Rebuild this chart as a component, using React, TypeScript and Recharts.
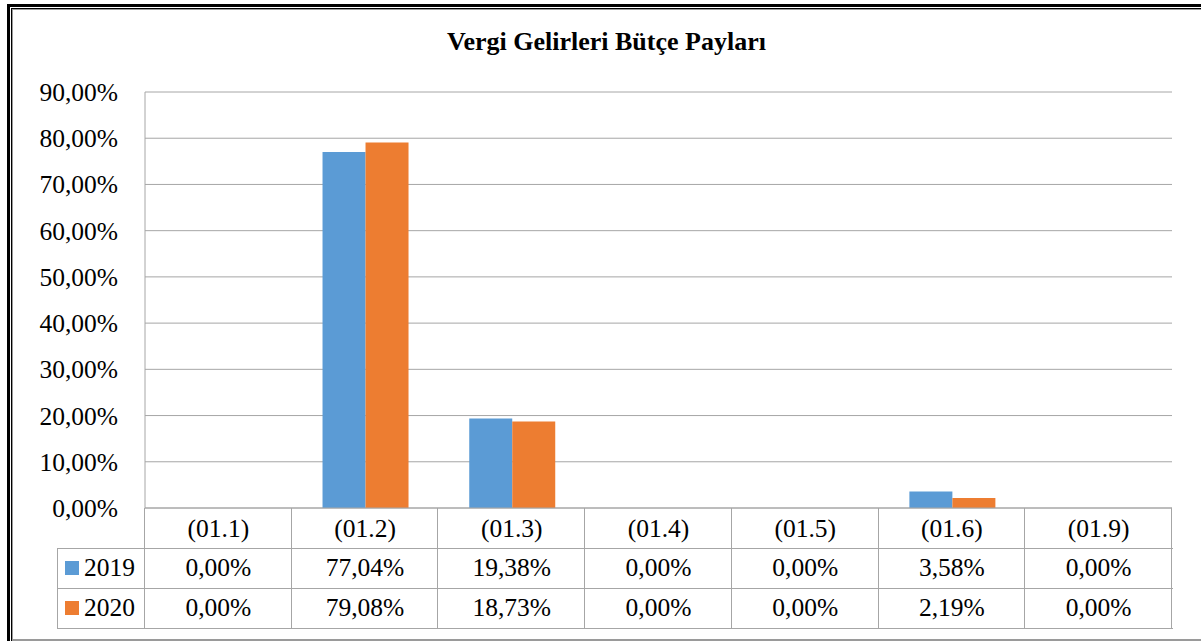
import { BarChart, Bar, XAxis, YAxis, CartesianGrid } from "recharts";

const title = "Vergi Gelirleri Bütçe Payları";
const categories = ["(01.1)", "(01.2)", "(01.3)", "(01.4)", "(01.5)", "(01.6)", "(01.9)"];
const values2019 = [0, 77.04, 19.38, 0, 0, 3.58, 0];
const values2020 = [0, 79.08, 18.73, 0, 0, 2.19, 0];
const seriesNames = ["2019", "2020"];
const yTicks = [0, 10, 20, 30, 40, 50, 60, 70, 80, 90];

const W = 1201;
const H = 641;
const PLOT_LEFT = 145;
const PLOT_RIGHT = 1172;
const PLOT_TOP = 92;
const PLOT_BOTTOM = 508;
const HEADER_H = 40;
const ROW_H = 40;
const LEGEND_LEFT = 57;

const FONT = '"Liberation Serif", "Times New Roman", serif';
const GRID = "#a6a6a6";
const BLUE = "#5b9bd5";
const ORANGE = "#ed7d31";

const fmt = (v: number) => v.toFixed(2).replace(".", ",") + "%";

const data = categories.map((c, i) => ({
  cat: c,
  y2019: values2019[i],
  y2020: values2020[i],
}));

const series = [
  { name: seriesNames[0], values: values2019, color: BLUE },
  { name: seriesNames[1], values: values2020, color: ORANGE },
];

function CategoryTick(props: any) {
  const { x, y, payload } = props;
  return (
    <text
      x={x}
      y={y + 29}
      textAnchor="middle"
      fontFamily={FONT}
      fontSize={25.5}
      fill="#000"
    >
      {payload.value}
    </text>
  );
}

function DataTable() {
  const band = (PLOT_RIGHT - PLOT_LEFT) / categories.length;
  const rowTop = PLOT_BOTTOM + HEADER_H;
  const tableBottom = rowTop + series.length * ROW_H;
  const lines: JSX.Element[] = [];

  // horizontal lines of the value rows
  for (let r = 0; r <= series.length; r++) {
    lines.push(
      <div
        key={"h" + r}
        style={{
          position: "absolute",
          left: LEGEND_LEFT,
          top: rowTop + r * ROW_H,
          width: PLOT_RIGHT - LEGEND_LEFT + 1,
          height: 1,
          background: GRID,
        }}
      />
    );
  }
  // legend column left border
  lines.push(
    <div
      key="vl"
      style={{
        position: "absolute",
        left: LEGEND_LEFT,
        top: rowTop,
        width: 1,
        height: tableBottom - rowTop,
        background: GRID,
      }}
    />
  );
  // category column borders
  for (let i = 0; i <= categories.length; i++) {
    lines.push(
      <div
        key={"v" + i}
        style={{
          position: "absolute",
          left: Math.round(PLOT_LEFT - 1 + i * band),
          top: PLOT_BOTTOM,
          width: 1,
          height: tableBottom - PLOT_BOTTOM,
          background: GRID,
        }}
      />
    );
  }

  const cells: JSX.Element[] = [];
  series.forEach((s, r) => {
    const top = rowTop + r * ROW_H;
    cells.push(
      <div
        key={"lg" + r}
        style={{
          position: "absolute",
          left: LEGEND_LEFT + 8,
          top,
          height: ROW_H,
          display: "flex",
          alignItems: "center",
          fontFamily: FONT,
          fontSize: 25.5,
          lineHeight: "26px",
          color: "#000",
        }}
      >
        <span
          style={{
            display: "inline-block",
            width: 14,
            height: 14,
            background: s.color,
            marginRight: 5,
          }}
        />
        {s.name}
      </div>
    );
    s.values.forEach((v, i) => {
      cells.push(
        <div
          key={"c" + r + "-" + i}
          style={{
            position: "absolute",
            left: PLOT_LEFT + i * band,
            width: band,
            top,
            height: ROW_H,
            display: "flex",
            alignItems: "center",
            justifyContent: "center",
            fontFamily: FONT,
            fontSize: 25.5,
            lineHeight: "26px",
            color: "#000",
          }}
        >
          {fmt(v)}
        </div>
      );
    });
  });

  return (
    <>
      {lines}
      {cells}
    </>
  );
}

function Frame() {
  const box = (s: React.CSSProperties, k: string) => (
    <div key={k} style={{ position: "absolute", ...s }} />
  );
  return (
    <>
      {box({ left: 7, top: 4, right: 0, height: 3, background: "#000" }, "t1")}
      {box({ left: 7, top: 4, width: 3, bottom: 0, background: "#000" }, "l1")}
      {box({ left: 11, top: 8, right: 0, height: 1, background: "#000" }, "t2")}
      {box({ left: 11, top: 8, width: 1, bottom: 0, background: "#000" }, "l2")}
      {box({ left: 12, top: 9, right: 0, height: 1, background: "#9a9a9a" }, "t3")}
      {box({ left: 12, top: 9, width: 1, bottom: 0, background: "#9a9a9a" }, "l3")}
      {box({ left: 12, top: 639, right: 0, height: 2, background: "#9a9a9a" }, "b3")}
    </>
  );
}

export default function App() {
  return (
    <div
      style={{
        position: "absolute",
        left: 0,
        top: 0,
        width: W,
        height: H,
        background: "#fff",
        overflow: "hidden",
      }}
    >
      <Frame />
      <div
        style={{
          position: "absolute",
          left: 12,
          width: W - 12,
          top: 29,
          textAlign: "center",
          fontFamily: FONT,
          fontWeight: "bold",
          fontSize: 26,
          lineHeight: "26px",
          color: "#000",
        }}
      >
        {title}
      </div>
      <div style={{ position: "absolute", left: 0, top: 0 }}>
        <BarChart
          width={W}
          height={H}
          data={data}
          margin={{
            top: PLOT_TOP,
            left: 0,
            right: W - PLOT_RIGHT,
            bottom: H - PLOT_BOTTOM - HEADER_H,
          }}
          barCategoryGap="21%"
          barGap={0}
        >
          <CartesianGrid vertical={false} stroke={GRID} strokeWidth={1} />
          <XAxis
            dataKey="cat"
            height={HEADER_H}
            tickLine={false}
            tickSize={0}
            tickMargin={0}
            axisLine={{ stroke: GRID }}
            tick={<CategoryTick />}
            interval={0}
          />
          <YAxis
            width={PLOT_LEFT}
            domain={[0, 90]}
            ticks={yTicks}
            tickFormatter={fmt}
            tickLine={false}
            tickSize={0}
            tickMargin={27}
            axisLine={{ stroke: GRID }}
            tick={{ fontFamily: FONT, fontSize: 25.5, fill: "#000" }}
          />
          <Bar dataKey="y2019" name={seriesNames[0]} fill={BLUE} isAnimationActive={false} />
          <Bar dataKey="y2020" name={seriesNames[1]} fill={ORANGE} isAnimationActive={false} />
        </BarChart>
      </div>
      <DataTable />
    </div>
  );
}
